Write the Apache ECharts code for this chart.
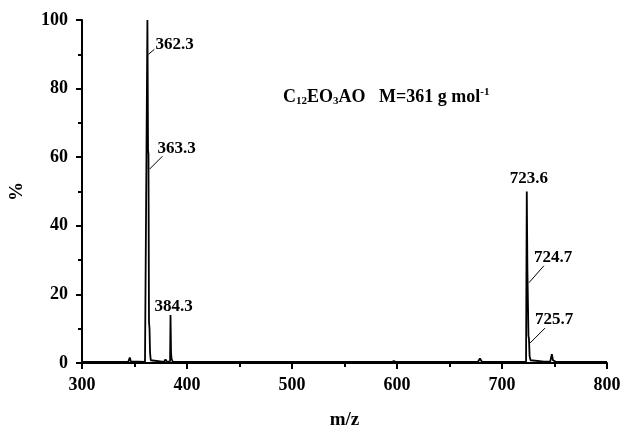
<!DOCTYPE html>
<html>
<head>
<meta charset="utf-8">
<script src="https://cdn.jsdelivr.net/npm/echarts@6/dist/echarts.min.js"></script>
<style>html,body{margin:0;padding:0;background:#fff}#c{width:630px;height:435px}</style>
</head>
<body>
<div id="c"></div>
<script>
// Spectrum profile (m/z, relative intensity %)
const mz = [300, 344, 345.5, 346.5, 348, 360, 361.9, 362.3, 362.9, 363.3, 363.8, 364.3, 364.8, 365.5, 367, 378, 379.5, 381, 383.9, 384.3, 384.8, 385.3, 386.5, 400, 500, 595, 597, 599, 650, 677, 679, 681, 700, 722.9, 723.6, 724.2, 724.7, 725.2, 725.7, 726.3, 727.2, 729, 740, 746, 747.5, 748.5, 751, 760, 800];
const intensity = [0.3, 0.3, 1.6, 0.5, 0.3, 0.3, 0.5, 100, 62, 61, 12, 10, 3, 0.8, 0.4, 0.3, 1.0, 0.3, 0.5, 14, 3, 1.2, 0.3, 0.3, 0.3, 0.3, 0.6, 0.3, 0.3, 0.3, 1.3, 0.3, 0.3, 0.4, 50, 27, 26.5, 8, 7, 2, 0.8, 0.5, 0.4, 0.5, 2.6, 0.8, 0.4, 0.3, 0.3];

// Peak annotations
const peakLabels = ['362.3', '363.3', '384.3', '723.6', '724.7', '725.7'];
const labelAnchorMz = [362.3, 363.3, 384.3, 723.6, 724.7, 725.7];
const labelAnchorInt = [90, 56.5, 14, 50, 23.4, 5.8];

const xTicks = [300, 400, 500, 600, 700, 800];
const yTicks = [0, 20, 40, 60, 80, 100];

// label layout styles (pixel offsets): [leaderDx, leaderDy, textDx, textDy, align]
const labelStyle = [
  [7, -5, 8, -10, 'left'],
  [14, -13, 9, -21, 'left'],
  [0, 0, -16, -8, 'left'],
  [0, 0, 2, -13, 'center'],
  [16, -17, 6, -25, 'left'],
  [16, -15, 6, -23, 'left']
];

const FONT = '"Liberation Serif", "DejaVu Serif", serif';
const chart = echarts.init(document.getElementById('c'));
const spectrum = mz.map((m, i) => [m, intensity[i]]);
const ann = peakLabels.map((t, i) => [labelAnchorMz[i], labelAnchorInt[i], t, i]);

chart.setOption({
  animation: false,
  backgroundColor: '#fff',
  grid: { left: 79, right: 23, top: 20, bottom: 56, containLabel: false },
  xAxis: {
    type: 'value', min: xTicks[0], max: xTicks[xTicks.length - 1], interval: 100,
    name: 'm/z', nameLocation: 'middle', nameGap: 48,
    nameTextStyle: { fontFamily: FONT, fontWeight: 'bold', fontSize: 19, color: '#000' },
    axisLine: { lineStyle: { color: '#000', width: 2 } },
    axisTick: { inside: false, length: 6, lineStyle: { color: '#000', width: 2 } },
    minorTick: { show: true, splitNumber: 2, length: 4, lineStyle: { color: '#000', width: 2 } },
    axisLabel: { fontFamily: FONT, fontWeight: 'bold', fontSize: 18, color: '#000', margin: 13 },
    splitLine: { show: false }
  },
  yAxis: {
    type: 'value', min: yTicks[0], max: yTicks[yTicks.length - 1], interval: 20,
    name: '%', nameLocation: 'middle', nameGap: 55, nameRotate: 90,
    nameTextStyle: { fontFamily: FONT, fontWeight: 'bold', fontSize: 19, color: '#000' },
    axisLine: { show: true, lineStyle: { color: '#000', width: 2 } },
    axisTick: { show: true, length: 6, lineStyle: { color: '#000', width: 2 } },
    minorTick: { show: true, splitNumber: 2, length: 4, lineStyle: { color: '#000', width: 2 } },
    axisLabel: { fontFamily: FONT, fontWeight: 'bold', fontSize: 18, color: '#000', margin: 14 },
    splitLine: { show: false }
  },
  series: [
    {
      type: 'line', data: spectrum, showSymbol: false, symbol: 'none',
      lineStyle: { color: '#000', width: 1.8 }, z: 3
    },
    {
      type: 'custom', data: ann, encode: { x: 0, y: 1 }, z: 4,
      renderItem: function (params, api) {
        const p = api.coord([api.value(0), api.value(1)]);
        const i = api.value(3);
        const s = labelStyle[i];
        const children = [];
        if (s[0] !== 0 || s[1] !== 0) {
          children.push({ type: 'line', shape: { x1: p[0] + 1, y1: p[1], x2: p[0] + s[0], y2: p[1] + s[1] }, style: { stroke: '#000', lineWidth: 1 } });
        }
        children.push({
          type: 'text',
          style: { x: p[0] + s[2], y: p[1] + s[3], text: peakLabels[i], textAlign: s[4], textVerticalAlign: 'middle',
            font: 'bold 17px ' + FONT, fill: '#000' }
        });
        return { type: 'group', children: children };
      }
    }
  ],
  graphic: [
    {
      type: 'text', left: 283, top: 87,
      style: {
        text: '{b|C}{s|12}{b|EO}{s|3}{b|AO   M=361 g mol}{u|-1}',
        rich: {
          b: { fontFamily: FONT, fontWeight: 'bold', fontSize: 18, color: '#000' },
          s: { fontFamily: FONT, fontWeight: 'bold', fontSize: 11, color: '#000', verticalAlign: 'bottom', padding: [9, 0, 0, 0] },
          u: { fontFamily: FONT, fontWeight: 'bold', fontSize: 11, color: '#000', verticalAlign: 'top', padding: [0, 0, 9, 0] }
        }
      }
    }
  ]
});
</script>
</body>
</html>
